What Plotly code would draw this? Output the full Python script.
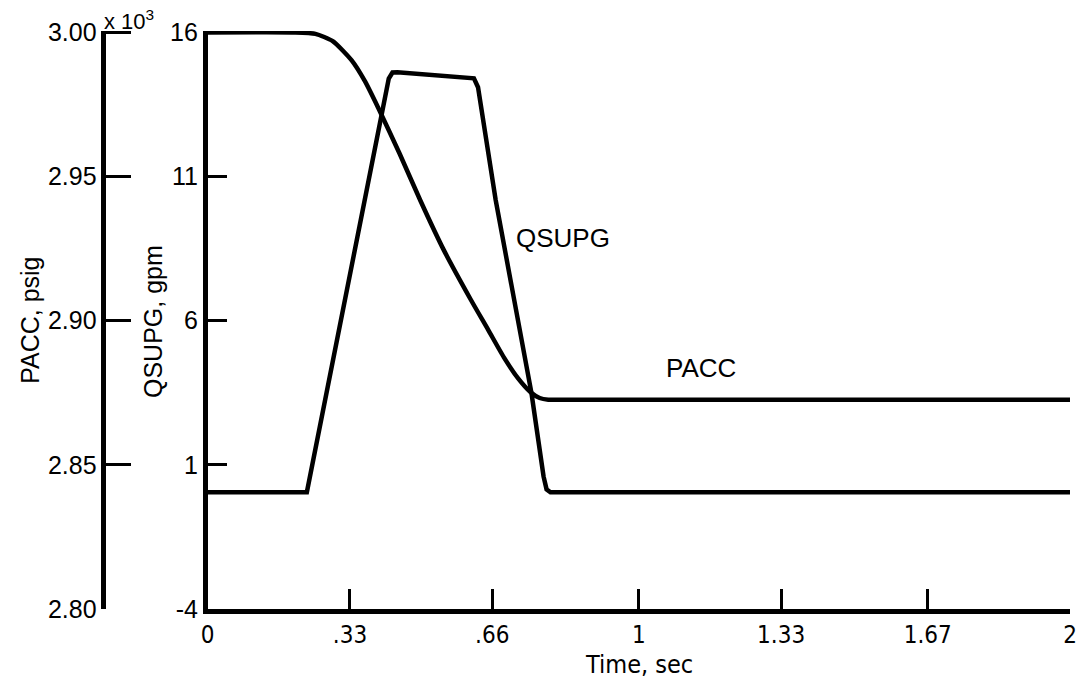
import plotly.graph_objects as go

# ---- data ----
time_ticks = [0, 0.33, 0.66, 1, 1.33, 1.67, 2]
time_tick_text = ["0", ".33", ".66", "1", "1.33", "1.67", "2"]
qsupg_ticks = [-4, 1, 6, 11, 16]
qsupg_tick_text = ["-4", "1", "6", "11", "16"]
pacc_ticks = [2.80, 2.85, 2.90, 2.95, 3.00]
pacc_tick_text = ["2.80", "2.85", "2.90", "2.95", "3.00"]

# QSUPG, gpm
t_qsupg = [0, 0.23, 0.42, 0.4286, 0.44, 0.6175, 0.627, 0.668, 0.751, 0.779, 0.786, 0.795, 2.0]
qsupg = [0.05, 0.05, 14.4, 14.61, 14.62, 14.41, 14.1, 10.18, 3.49, 0.6, 0.15, 0.05, 0.05]

# PACC, psig x 10^3
t_pacc = [0, 0.2, 0.25, 0.29, 0.334, 0.365, 0.396, 0.445, 0.493, 0.548, 0.611, 0.65,
          0.687, 0.72, 0.749, 0.77, 0.79, 0.85, 2.0]
pacc = [3.000, 3.000, 2.9995, 2.997, 2.9903, 2.983, 2.9737, 2.958, 2.9418, 2.9244, 2.9071, 2.897,
        2.8873, 2.880, 2.8752, 2.8732, 2.8726, 2.8726, 2.8726]

# ---- layout helpers ----
W, H = 1080, 686
# target geometry: plot left 202, right 1070, top 32, bottom 609
ML = 0
MR = W - 1070
MT = 31
MB = H - 609
PW = W - ML - MR
PH = H - MT - MB


def px(x):
    return (x - ML) / PW


def py(y):
    return (H - MB - y) / PH


FONT = "Liberation Sans, Arial, Helvetica, sans-serif"
NARROW = "Liberation Sans Narrow, DejaVu Sans Condensed, Liberation Sans, Arial, sans-serif"

fig = go.Figure()
fig.add_trace(go.Scatter(x=t_qsupg, y=qsupg, mode="lines", name="QSUPG",
                         line=dict(color="black", width=4.5), yaxis="y"))
fig.add_trace(go.Scatter(x=t_pacc, y=pacc, mode="lines", name="PACC",
                         line=dict(color="black", width=4.5, shape="spline", smoothing=0.6),
                         yaxis="y2"))

fig.update_layout(
    width=W, height=H,
    margin=dict(l=ML, r=MR, t=MT, b=MB, pad=0),
    paper_bgcolor="white", plot_bgcolor="white",
    showlegend=False,
    font=dict(family=FONT, size=24, color="black"),
    xaxis=dict(
        domain=[px(202), 1], range=[0, 2],
        showgrid=False, zeroline=False,
        showline=True, linecolor="black", linewidth=4.5,
        ticks="inside", ticklen=20, tickwidth=3, tickcolor="black",
        tickvals=time_ticks, ticktext=time_tick_text,
        tickfont=dict(family=NARROW, size=24),
        ticklabeloverflow="allow",
        anchor="y",
    ),
    yaxis=dict(
        range=[-4, 16.05],
        showgrid=False, zeroline=False,
        showline=True, linecolor="black", linewidth=4.5,
        ticks="inside", ticklen=20, tickwidth=3, tickcolor="black",
        tickvals=qsupg_ticks, ticktext=qsupg_tick_text,
        tickfont=dict(family=FONT, size=25),
        anchor="x",
    ),
    yaxis2=dict(
        range=[2.80, 3.0005],
        overlaying="y", side="left", anchor="free", position=px(97),
        showgrid=False, zeroline=False,
        showline=True, linecolor="black", linewidth=4.5,
        ticks="inside", ticklen=25, tickwidth=3, tickcolor="black",
        tickvals=pacc_ticks, ticktext=pacc_tick_text,
        tickfont=dict(family=FONT, size=25),
    ),
)

annotations = [
    dict(text="x 10<sup>3</sup>", x=px(96), y=py(20), xanchor="left", yanchor="middle",
         font=dict(family=FONT, size=22)),
    dict(text="PACC, psig", x=px(23), y=py(320), textangle=-90, xanchor="center", yanchor="middle",
         font=dict(family=FONT, size=25)),
    dict(text="QSUPG, gpm", x=px(147), y=py(322), textangle=-90, xanchor="center", yanchor="middle",
         font=dict(family=FONT, size=25)),
    dict(text="Time, sec", x=px(636), y=py(664), xanchor="center", yanchor="middle",
         font=dict(family=NARROW, size=25)),
    dict(text="QSUPG", x=px(560), y=py(238), xanchor="center", yanchor="middle",
         font=dict(family=FONT, size=26)),
    dict(text="PACC", x=px(699), y=py(368), xanchor="center", yanchor="middle",
         font=dict(family=FONT, size=26)),
]
for a in annotations:
    a.update(xref="paper", yref="paper", showarrow=False)
fig.update_layout(annotations=annotations)

fig.write_html(
    "out.html",
    config={"displayModeBar": False},
    post_script="document.body.style.margin='0';document.body.style.overflow='hidden';",
)
